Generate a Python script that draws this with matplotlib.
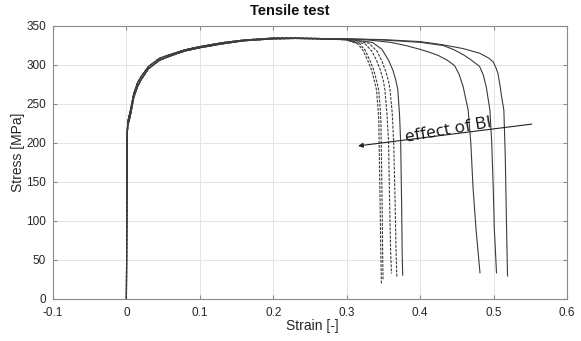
import matplotlib
matplotlib.use("Agg")
import matplotlib.pyplot as plt

# ---- data ----
# shared elastic + hardening part (two slightly different variants)
hard_strain_a = [0.0, 0.0005, 0.001, 0.002, 0.005, 0.010, 0.015, 0.020, 0.030, 0.045, 0.060, 0.080, 0.100, 0.130, 0.160, 0.200, 0.230, 0.260, 0.280]
hard_stress_a = [0.0, 120.0, 210.0, 222.0, 233.0, 258.0, 272.0, 281.0, 295.0, 306.0, 311.5, 318.0, 322.0, 327.0, 331.0, 333.5, 334.0, 333.5, 333.0]
hard_strain_b = [0.0, 0.0005, 0.001, 0.002, 0.005, 0.010, 0.015, 0.020, 0.030, 0.045, 0.060, 0.080, 0.100, 0.130, 0.160, 0.200, 0.230, 0.260, 0.280]
hard_stress_b = [0.0, 120.0, 215.0, 228.0, 240.0, 263.0, 277.0, 285.0, 298.0, 308.5, 313.5, 319.5, 323.5, 328.5, 332.0, 334.5, 334.5, 334.0, 333.5]

# necking / fracture tails
tail_A_strain = [0.300, 0.315, 0.322, 0.329, 0.334, 0.3375, 0.3406, 0.3425, 0.3437, 0.3450, 0.3458, 0.3466, 0.3473]
tail_A_stress = [332.0, 327.0, 319.0, 305.0, 293.0, 280.0, 268.0, 245.0, 229.0, 150.0, 101.0, 50.0, 18.0]
tail_B_strain = [0.300, 0.318, 0.325, 0.332, 0.337, 0.3405, 0.3436, 0.3455, 0.3465, 0.3478, 0.3485, 0.3490, 0.3495]
tail_B_stress = [332.0, 327.0, 319.0, 305.0, 293.0, 280.0, 268.0, 245.0, 229.0, 150.0, 101.0, 50.0, 23.0]
tail_C_strain = [0.300, 0.325, 0.334, 0.341, 0.346, 0.350, 0.352, 0.355, 0.357, 0.3585, 0.3598, 0.3610]
tail_C_stress = [332.5, 327.0, 318.0, 305.0, 293.0, 279.0, 268.0, 235.0, 200.0, 120.0, 60.0, 32.0]
tail_D_strain = [0.300, 0.330, 0.341, 0.348, 0.353, 0.357, 0.359, 0.362, 0.364, 0.3660, 0.3672, 0.3683]
tail_D_stress = [333.0, 328.0, 318.0, 305.0, 292.0, 279.0, 268.0, 238.0, 200.0, 120.0, 60.0, 27.0]
tail_E_strain = [0.300, 0.335, 0.348, 0.357, 0.363, 0.367, 0.3696, 0.372, 0.3735, 0.3748, 0.3755, 0.3762]
tail_E_stress = [333.0, 329.0, 320.0, 306.0, 293.0, 280.0, 268.0, 235.0, 200.0, 120.0, 60.0, 30.0]
tail_F_strain = [0.300, 0.330, 0.360, 0.380, 0.400, 0.4136, 0.425, 0.437, 0.447, 0.453, 0.4586, 0.4654, 0.469, 0.472, 0.476, 0.4815]
tail_F_stress = [333.0, 332.0, 329.0, 325.0, 320.0, 316.0, 312.0, 306.0, 299.0, 288.0, 272.0, 242.0, 200.0, 143.0, 90.0, 33.0]
tail_G_strain = [0.300, 0.350, 0.400, 0.431, 0.445, 0.459, 0.470, 0.481, 0.486, 0.490, 0.495, 0.4975, 0.4995, 0.501, 0.504]
tail_G_stress = [333.5, 332.0, 329.0, 325.0, 320.0, 313.0, 306.0, 298.0, 287.0, 272.0, 242.0, 200.0, 143.0, 90.0, 33.0]
tail_H_strain = [0.300, 0.350, 0.400, 0.430, 0.4586, 0.481, 0.493, 0.4995, 0.503, 0.506, 0.509, 0.511, 0.514, 0.516, 0.5175, 0.519]
tail_H_stress = [333.5, 332.5, 330.0, 326.0, 321.0, 315.0, 309.0, 304.0, 297.0, 289.0, 272.0, 259.0, 242.0, 180.0, 100.0, 29.0]

x_ticks = [-0.1, 0, 0.1, 0.2, 0.3, 0.4, 0.5, 0.6]
x_tick_labels = ["-0.1", "0", "0.1", "0.2", "0.3", "0.4", "0.5", "0.6"]
y_ticks = [0, 50, 100, 150, 200, 250, 300, 350]

curves = [
    ("a", tail_A_strain, tail_A_stress, "dashed"),
    ("b", tail_B_strain, tail_B_stress, "dashed"),
    ("a", tail_C_strain, tail_C_stress, "dashed"),
    ("b", tail_D_strain, tail_D_stress, "dashed"),
    ("a", tail_E_strain, tail_E_stress, "solid"),
    ("b", tail_F_strain, tail_F_stress, "solid"),
    ("a", tail_G_strain, tail_G_stress, "solid"),
    ("b", tail_H_strain, tail_H_stress, "solid"),
]

plt.rcParams['font.family'] = ['Liberation Sans', 'DejaVu Sans']

W, H = 581, 341
fig = plt.figure(figsize=(W / 100, H / 100), dpi=100)
ax = fig.add_axes([53 / W, (H - 298.5) / H, 514 / W, 272.5 / H])

line_color = "#3c3c3c"
for variant, ts, tsig, style in curves:
    hs = hard_strain_a if variant == "a" else hard_strain_b
    hsig = hard_stress_a if variant == "a" else hard_stress_b
    xs = hs + ts
    ys = hsig + tsig
    ls = (0, (2.5, 1.2)) if style == "dashed" else "-"
    ax.plot(xs, ys, color=line_color, lw=0.8, ls=ls)

ax.set_xlim(-0.1, 0.6)
ax.set_ylim(0, 350)
ax.set_xticks(x_ticks)
ax.set_xticklabels(x_tick_labels)
ax.set_yticks(y_ticks)
ax.grid(True, color="#e4e4e4", lw=0.7)
ax.set_axisbelow(True)
for s in ax.spines.values():
    s.set_color("#8a8a8a")
    s.set_linewidth(0.8)
ax.tick_params(direction="in", length=3, color="#8a8a8a", labelsize=8.5,
               labelcolor="#262626", top=True, right=True)
ax.tick_params(axis="x", pad=6)
ax.tick_params(axis="y", pad=5)

fig.text(290 / W, 1 - 11 / H, "Tensile test", fontsize=10.5, fontweight="bold",
         color="#111111", ha="center", va="center")
fig.text(312 / W, 1 - 326 / H, "Strain [-]", fontsize=10, color="#262626",
         ha="center", va="center")
fig.text(18 / W, 1 - 152 / H, "Stress [MPa]", fontsize=10, color="#262626",
         ha="center", va="center", rotation=90)

ax.annotate("", xy=(0.3155, 196), xytext=(0.552, 224),
            arrowprops=dict(arrowstyle="-|>", color="#222222", lw=0.8,
                            mutation_scale=7, shrinkA=0, shrinkB=0))
ax.text(0.438, 216, "effect of BI", fontsize=12.5, family=["Open Sans", "DejaVu Sans"],
        rotation=10, ha="center", va="center", color="#111111")

fig.savefig("out.png", dpi=100)
